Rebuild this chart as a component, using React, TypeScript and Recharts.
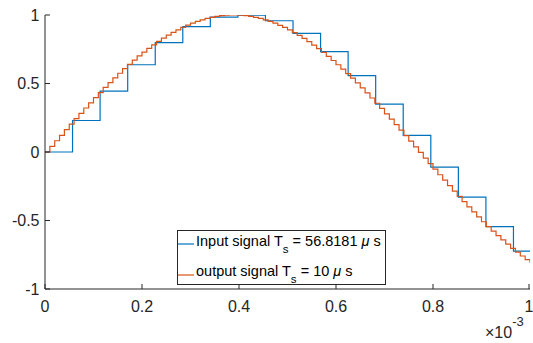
import { LineChart, Line, XAxis, YAxis } from "recharts";

// x values are in units of 1e-3 s
const INPUT_T = [0, 0.0568, 0.1136, 0.1705, 0.2273, 0.2841, 0.3409, 0.3977, 0.4545, 0.5114, 0.5682, 0.625, 0.6818, 0.7386, 0.7955, 0.8523, 0.9091, 0.9659, 1.0];
const INPUT_Y = [0, 0.23, 0.445, 0.637, 0.798, 0.915, 0.985, 0.999, 0.958, 0.866, 0.732, 0.557, 0.35, 0.122, -0.11, -0.33, -0.545, -0.723, -0.723];

const OUTPUT_TS = 0.01;
const OUTPUT_Y = [
  0, 0.041, 0.082, 0.122, 0.163, 0.203, 0.243, 0.282, 0.321, 0.359,
  0.397, 0.434, 0.471, 0.506, 0.541, 0.575, 0.608, 0.64, 0.671, 0.701,
  0.729, 0.756, 0.782, 0.807, 0.831, 0.853, 0.873, 0.892, 0.91, 0.926,
  0.941, 0.954, 0.965, 0.975, 0.983, 0.99, 0.995, 0.998, 1.0, 1.0,
  0.998, 0.995, 0.99, 0.983, 0.975, 0.965, 0.953, 0.94, 0.925, 0.909,
  0.891, 0.872, 0.851, 0.829, 0.805, 0.78, 0.754, 0.727, 0.698, 0.668,
  0.637, 0.605, 0.572, 0.539, 0.504, 0.468, 0.432, 0.394, 0.356, 0.318,
  0.279, 0.24, 0.2, 0.16, 0.119, 0.079, 0.038, -0.003, -0.044, -0.085,
  -0.125, -0.166, -0.206, -0.246, -0.285, -0.324, -0.362, -0.4, -0.437, -0.473,
  -0.509, -0.544, -0.578, -0.61, -0.642, -0.673, -0.703, -0.731, -0.759, -0.785,
  -0.809,
];

const X_TICKS = [0, 0.2, 0.4, 0.6, 0.8, 1];
const Y_TICKS = [-1, -0.5, 0, 0.5, 1];

const inputData = INPUT_T.map((t, i) => ({ t, y: INPUT_Y[i] }));
const outputData = OUTPUT_Y.map((y, i) => ({ t: +(i * OUTPUT_TS).toFixed(2), y }));

const BLUE = "#0072BD";
const ORANGE = "#D95319";
const AXIS = "#262626";
const FONT = "'Liberation Sans', Arial, Helvetica, sans-serif";

function XTick({ x, y, payload }: any) {
  return (
    <g>
      <line x1={x} x2={x} y1={y} y2={y - 5} stroke={AXIS} />
      <text x={x} y={y + 23} textAnchor="middle" fontSize={16} fill={AXIS} fontFamily={FONT}>
        {String(payload.value)}
      </text>
    </g>
  );
}

function YTick({ x, y, payload }: any) {
  return (
    <g>
      <line x1={x} x2={x + 5} y1={y} y2={y} stroke={AXIS} />
      <text x={x - 5.5} y={y} dy="0.36em" textAnchor="end" fontSize={16} fill={AXIS} fontFamily={FONT}>
        {String(payload.value)}
      </text>
    </g>
  );
}

export default function App() {
  return (
    <div style={{ position: "absolute", left: 0, top: 0, width: 533, height: 343, background: "#fff" }}>
      <LineChart width={533} height={343} margin={{ top: 15, right: 3, bottom: 0, left: 0 }}>
        <XAxis
          dataKey="t"
          type="number"
          domain={[0, 1]}
          ticks={X_TICKS}
          height={54}
          tickSize={0}
          tickMargin={0}
          tickLine={false}
          tick={<XTick />}
          stroke={AXIS}
          allowDataOverflow
        />
        <YAxis
          type="number"
          domain={[-1, 1]}
          ticks={Y_TICKS}
          width={45}
          tickSize={0}
          tickMargin={0}
          tickLine={false}
          tick={<YTick />}
          stroke={AXIS}
          allowDataOverflow
        />
        <Line data={inputData} dataKey="y" type="stepAfter" stroke={BLUE} strokeWidth={1.2} dot={false} isAnimationActive={false} />
        <Line data={outputData} dataKey="y" type="stepAfter" stroke={ORANGE} strokeWidth={1.2} dot={false} isAnimationActive={false} />
      </LineChart>
      <svg width={533} height={343} style={{ position: "absolute", left: 0, top: 0, pointerEvents: "none" }} fontFamily={FONT}>
        <rect x={177.5} y={230.5} width={208} height={54} fill="#fff" stroke={AXIS} strokeWidth={1} />
        <line x1={178} x2={194} y1={244} y2={244} stroke={BLUE} strokeWidth={1.2} />
        <text x={196} y={246} fontSize={14.5} fill="#000">
          Input signal T<tspan fontSize={11.5} dy={7}>s</tspan>
          <tspan dy={-7}> = 56.8181 </tspan>
          <tspan fontStyle="italic">μ</tspan> s
        </text>
        <line x1={178} x2={194} y1={275} y2={275} stroke={ORANGE} strokeWidth={1.2} />
        <text x={196} y={276} fontSize={14.5} fill="#000">
          output signal T<tspan fontSize={11.5} dy={7}>s</tspan>
          <tspan dy={-7}> = 10 </tspan>
          <tspan fontStyle="italic">μ</tspan> s
        </text>
        <text x={485} y={338} fontSize={16} fill={AXIS}>
          ×10<tspan fontSize={13} dy={-12}>-3</tspan>
        </text>
      </svg>
    </div>
  );
}
